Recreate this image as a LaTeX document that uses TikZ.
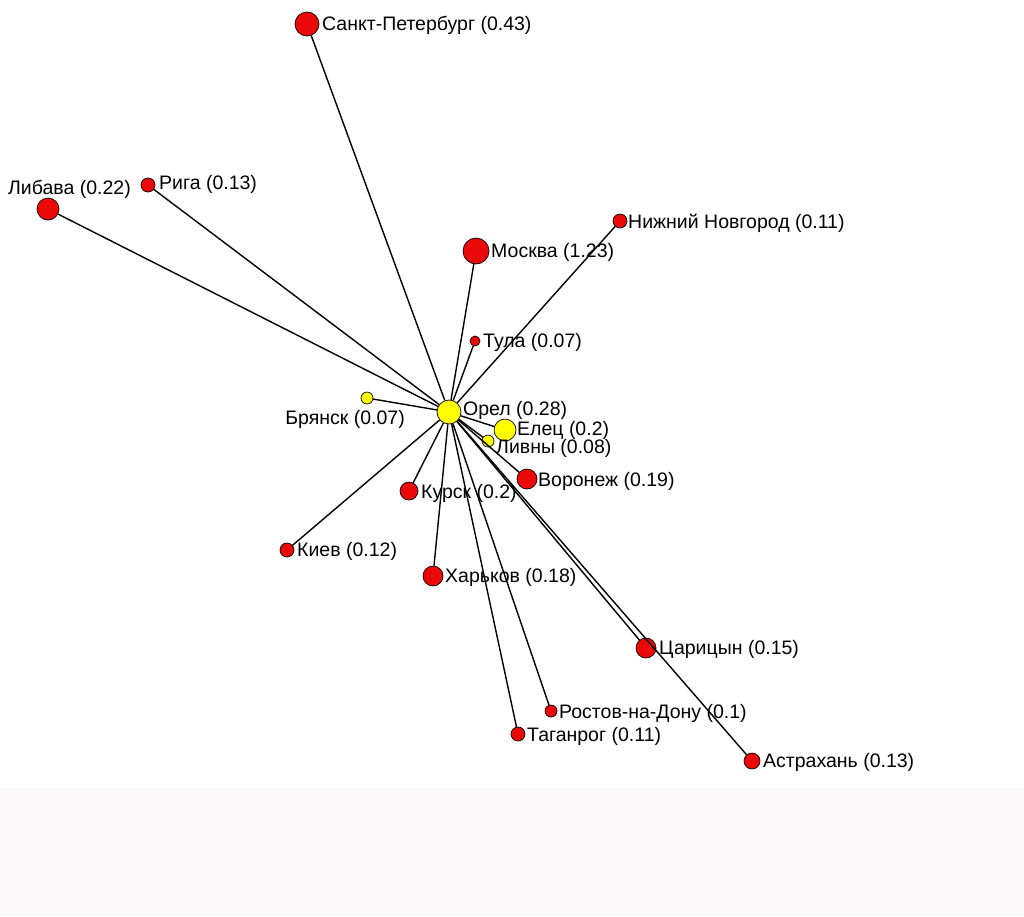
\documentclass[tikz,border=0pt]{standalone}
\usepackage{fontspec}
\setmainfont{Liberation Sans}
\definecolor{nodered}{RGB}{234,8,8}
\definecolor{nodeyellow}{RGB}{255,255,0}
\definecolor{bandgray}{RGB}{250,248,248}
\begin{document}
\begin{tikzpicture}[x=1pt,y=-1pt,
  city/.style={circle,draw=black,line width=0.7pt,inner sep=0pt,minimum size=#1},
  red/.style={city=#1,fill=nodered},
  yel/.style={city=#1,fill=nodeyellow},
  lbl/.style={inner sep=0pt,anchor=west,yshift=-1.5pt,font=\fontsize{19.5}{22}\selectfont},
  lbll/.style={inner sep=0pt,anchor=east,yshift=-1.5pt,font=\fontsize{19.5}{22}\selectfont},
  edge/.style={draw=black,line width=1.4pt}]
\useasboundingbox (0,0) rectangle (1024,916);
\fill[bandgray] (0,788) rectangle (1024,916);
% nodes
\node[yel=24pt] (orel) at (449,412) {};
\node[red=24pt] (spb) at (307,24) {};
\node[red=22pt] (libava) at (48,209) {};
\node[red=14pt] (riga) at (148,185) {};
\node[red=14pt] (nn) at (620,221) {};
\node[red=26pt] (moskva) at (476,251) {};
\node[red=10pt] (tula) at (475,341) {};
\node[yel=12pt] (bryansk) at (367,398) {};
\node[yel=22pt] (elets) at (505,430) {};
\node[yel=12pt] (livny) at (488,441) {};
\node[red=20pt] (voronezh) at (527,479) {};
\node[red=18pt] (kursk) at (409,491) {};
\node[red=14pt] (kiev) at (287,550) {};
\node[red=20pt] (kharkov) at (433,576) {};
\node[red=20pt] (tsaritsyn) at (646,648) {};
\node[red=12pt] (rostov) at (551,711) {};
\node[red=14pt] (taganrog) at (518,734) {};
\node[red=16pt] (astrakhan) at (752,761) {};
% edges
\foreach \n in {spb,libava,riga,nn,moskva,tula,bryansk,elets,livny,voronezh,kursk,kiev,kharkov,tsaritsyn,rostov,taganrog,astrakhan}
  \draw[edge] (orel) -- (\n);
% labels
\node[lbl] (l-spb) at (322,24) {Санкт-Петербург (0.43)};
\node[lbll] (l-libava) at (131,188) {Либава (0.22)};
\node[lbl] (l-riga) at (159,183) {Рига (0.13)};
\node[lbl] (l-nn) at (628,222) {Нижний Новгород (0.11)};
\node[lbl] (l-moskva) at (491,251) {Москва (1.23)};
\node[lbl] (l-tula) at (483,341) {Тула (0.07)};
\node[lbll] (l-bryansk) at (405,418) {Брянск (0.07)};
\node[lbl] (l-orel) at (463,409) {Орел (0.28)};
\node[lbl] (l-elets) at (517,429) {Елец (0.2)};
\node[lbl] (l-livny) at (496,447) {Ливны (0.08)};
\node[lbl] (l-voronezh) at (538,480) {Воронеж (0.19)};
\node[lbl] (l-kursk) at (421,492) {Курск (0.2)};
\node[lbl] (l-kiev) at (297,550) {Киев (0.12)};
\node[lbl] (l-kharkov) at (445,576) {Харьков (0.18)};
\node[lbl] (l-tsaritsyn) at (659,648) {Царицын (0.15)};
\node[lbl] (l-rostov) at (559,712) {Ростов-на-Дону (0.1)};
\node[lbl] (l-taganrog) at (527,735) {Таганрог (0.11)};
\node[lbl] (l-astrakhan) at (763,761) {Астрахань (0.13)};
\end{tikzpicture}
\end{document}
